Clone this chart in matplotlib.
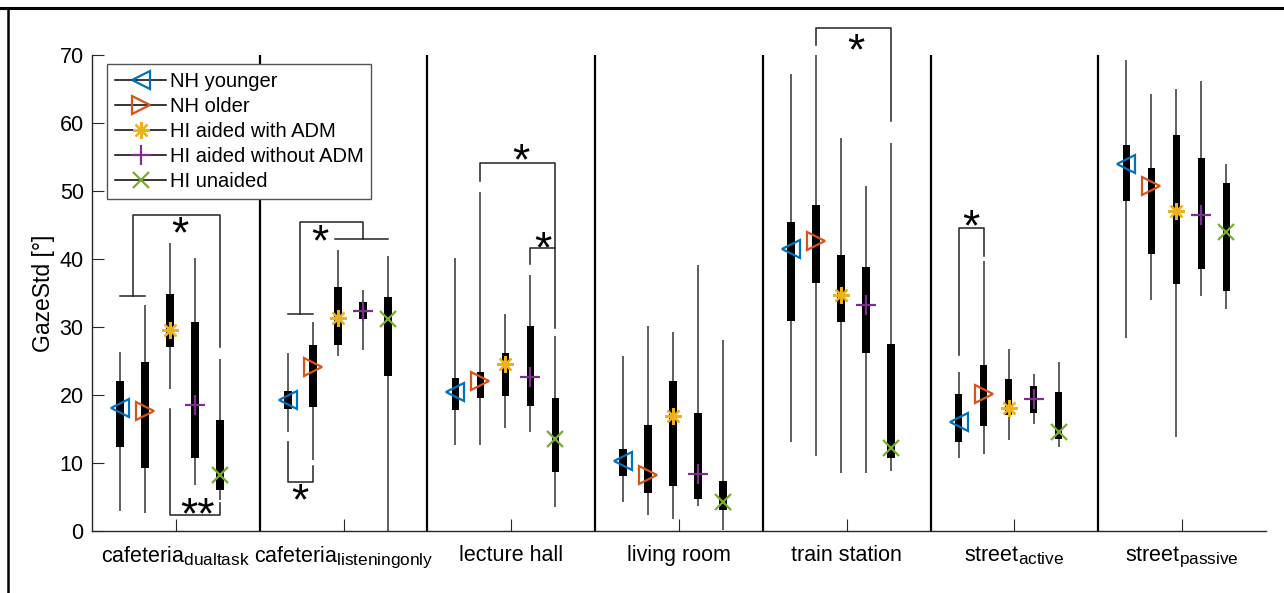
import matplotlib
matplotlib.use('Agg')
import matplotlib.pyplot as plt
import matplotlib._mathtext as mathtext_mod
from matplotlib.lines import Line2D

plt.rcParams['font.family'] = ['Liberation Sans', 'DejaVu Sans']
plt.rcParams['mathtext.fontset'] = 'custom'
plt.rcParams['mathtext.rm'] = 'Liberation Sans'
plt.rcParams['mathtext.it'] = 'Liberation Sans:italic'
# larger subscripts, like the original
mathtext_mod.SHRINK_FACTOR = 0.8

# conditions (x groups) and listener groups (boxes inside each condition)
conditions = [r'cafeteria$_{\mathrm{dualtask}}$', r'cafeteria$_{\mathrm{listeningonly}}$',
              'lecture hall', 'living room', 'train station',
              r'street$_{\mathrm{active}}$', r'street$_{\mathrm{passive}}$']
groups = ['NH younger', 'NH older', 'HI aided with ADM', 'HI aided without ADM', 'HI unaided']

# per condition: values for the 5 groups
med = [[18.1, 17.7, 29.5, 18.5, 8.2],
       [19.3, 24.1, 31.3, 32.3, 31.1],
       [20.5, 22.0, 24.5, 22.7, 13.5],
       [10.3, 8.3, 16.9, 8.4, 4.2],
       [41.5, 42.6, 34.7, 33.2, 12.2],
       [16.0, 20.2, 18.1, 19.4, 14.5],
       [54.0, 50.8, 47.0, 46.5, 44.0]]
q1 = [[12.4, 9.3, 27.1, 10.7, 6.0],
      [18.0, 18.2, 27.3, 31.2, 22.8],
      [17.8, 19.6, 19.8, 18.4, 8.7],
      [8.1, 5.6, 6.6, 4.7, 3.1],
      [30.9, 36.5, 30.7, 26.2, 10.7],
      [13.1, 15.4, 17.1, 17.4, 13.5],
      [48.5, 40.8, 36.3, 38.5, 35.3]]
q3 = [[22.0, 24.8, 34.8, 30.8, 16.3],
      [20.6, 27.3, 35.9, 33.6, 34.4],
      [22.5, 23.4, 26.2, 30.1, 19.5],
      [12.0, 15.6, 22.0, 17.3, 7.4],
      [45.5, 48.0, 40.6, 38.8, 27.5],
      [20.1, 24.4, 22.3, 21.3, 20.4],
      [56.8, 53.4, 58.3, 54.8, 51.1]]
lo = [[2.9, 2.7, 20.9, 6.7, 4.5],
      [14.6, 10.5, 25.7, 26.6, 0.0],
      [12.7, 12.7, 15.2, 14.6, 3.5],
      [4.2, 2.3, 1.8, 3.6, 0.2],
      [13.1, 11.0, 8.5, 8.5, 8.8],
      [10.7, 11.3, 13.4, 15.7, 12.4],
      [28.4, 34.0, 13.8, 34.6, 32.7]]
hi = [[26.3, 33.3, 42.3, 40.2, 25.3],
      [26.2, 30.8, 41.3, 35.5, 40.5],
      [40.1, 49.8, 31.9, 37.6, 28.7],
      [25.8, 30.2, 29.3, 39.1, 28.1],
      [67.2, 70.0, 57.8, 50.8, 57.1],
      [23.4, 39.7, 26.8, 23.1, 24.8],
      [69.3, 64.2, 65.0, 66.1, 53.9]]

# significance brackets: (condition index, [(box index, y), ...])
brackets = [(0, [(0, 34.5), (1, 34.5)]),
            (0, [(0.5, 34.5), (0.5, 46.5), (4, 46.5), (4, 27.0)]),
            (0, [(2, 18.0), (2, 2.4), (4, 2.4), (4, 4.1)]),
            (1, [(0, 31.9), (1, 31.9)]),
            (1, [(0.5, 31.9), (0.5, 45.5), (3, 45.5), (3, 43.0)]),
            (1, [(1.9, 43.0), (4, 43.0)]),
            (1, [(0, 13.1), (0, 7.2), (1, 7.2), (1, 9.5)]),
            (2, [(1, 51.5), (1, 54.1), (4, 54.1), (4, 29.9)]),
            (2, [(3, 39.2), (3, 41.6), (4, 41.6)]),
            (4, [(1, 71.5), (1, 74.0), (4, 74.0), (4, 60.3)]),
            (5, [(0, 25.9), (0, 44.5), (1, 44.5), (1, 40.5)])]
stars = [(0, 2.4, 45.0, '*'), (0, 3.1, 3.6, '**'),
         (1, 1.3, 43.8, '*'), (1, 0.5, 5.7, '*'),
         (2, 2.6, 55.6, '*'), (2, 3.5, 42.8, '*'),
         (4, 2.6, 71.9, '*'), (5, 0.5, 46.0, '*')]

colors = ['#0072BD', '#D95319', '#EDB120', '#7E2F8E', '#77AC30']
markers = ['<', '>', (8, 2, 0), '+', 'x']
msizes = [13, 13, 12, 14, 11]
offsets = [-0.333, -0.184, -0.035, 0.114, 0.263]


def xpos(c, b):
    return c + 1 + offsets[0] + b * (offsets[1] - offsets[0])


fig = plt.figure(figsize=(12.84, 5.93), dpi=100)
ax = fig.add_axes([0.0717, 0.1046, 0.9143, 0.8027])

for c in range(len(conditions)):
    for b in range(len(groups)):
        x = xpos(c, b)
        ax.vlines(x, lo[c][b], hi[c][b], color='#333333', lw=1.1, zorder=2)
        ax.bar(x, q3[c][b] - q1[c][b], bottom=q1[c][b], width=0.045,
               color='black', zorder=3)
        ax.plot(x, med[c][b], marker=markers[b], ms=msizes[b], mfc='none',
                mec=colors[b], mew=1.6, ls='none', zorder=4)

# separators between conditions
for c in range(1, len(conditions)):
    ax.vlines(c + 0.5, 0, 70, color='black', lw=1.6, zorder=1)

for c, pts in brackets:
    ax.plot([xpos(c, b) for b, _ in pts], [y for _, y in pts],
            color='#222222', lw=1.1, clip_on=False, zorder=5)
for c, b, y, s in stars:
    # asterisk glyph sits high in the line, shift it down a bit
    ax.annotate(s, (xpos(c, b), y), xytext=(0, -7.5), textcoords='offset points',
                ha='center', va='center', fontsize=32, annotation_clip=False, zorder=6)

ax.set_xlim(0.5, 7.5)
ax.set_ylim(0, 70)
ax.set_xticks(range(1, len(conditions) + 1))
ax.set_xticklabels(conditions, fontsize=15.5)
ax.set_yticks(range(0, 71, 10))
ax.tick_params(axis='y', labelsize=15.5, direction='in', length=8.5, color='#262626', pad=6)
ax.tick_params(axis='x', direction='in', length=8.5, color='#262626', pad=10)
ax.set_ylabel('GazeStd [°]', fontsize=16.5, labelpad=3)
for side in ['top', 'right']:
    ax.spines[side].set_visible(False)
for side in ['left', 'bottom']:
    ax.spines[side].set_color('#262626')
    ax.spines[side].set_linewidth(1.0)

handles = [Line2D([], [], color='black', lw=1.1, marker=markers[i], ms=msizes[i],
                  mfc='none', mec=colors[i], mew=1.6) for i in range(len(groups))]
leg = ax.legend(handles, groups, loc='upper left', bbox_to_anchor=(0.0128, 0.981),
                borderaxespad=0, fontsize=14.5, handlelength=2.55, handletextpad=0.15,
                labelspacing=0.3, fancybox=False, framealpha=1, borderpad=0.4)
leg.get_frame().set_edgecolor('#555555')
leg.get_frame().set_linewidth(1.0)

# outer frame lines (top and left)
fig.add_artist(Line2D([0, 1], [0.9865, 0.9865], transform=fig.transFigure, color='black', lw=2.2))
fig.add_artist(Line2D([0.0065, 0.0065], [0, 0.9865], transform=fig.transFigure, color='black', lw=1.8))

fig.savefig('out.png', dpi=100)
